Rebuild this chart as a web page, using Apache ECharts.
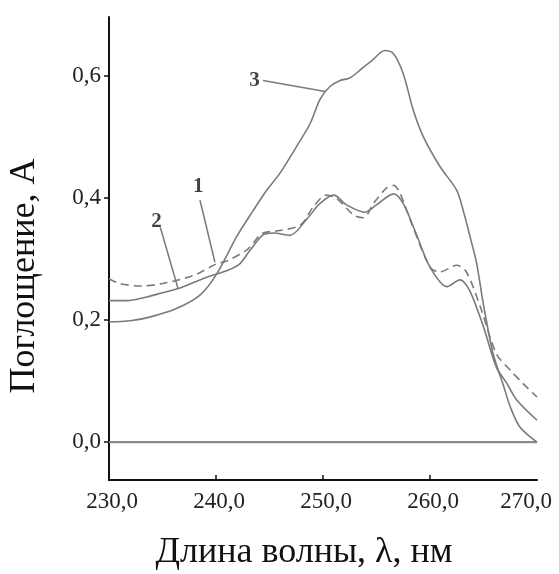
<!DOCTYPE html>
<html>
<head>
<meta charset="utf-8">
<script src="https://cdn.jsdelivr.net/npm/echarts@6/dist/echarts.min.js"></script>
<style>html,body{margin:0;padding:0;background:#fff}#c{width:559px;height:574px}</style>
</head>
<body>
<div id="c"></div>
<script>
// Wavelength (nm) / absorbance readings for each curve
var wl1 = [230, 231, 233, 235, 238, 240, 241, 243, 244.3, 246, 247.9, 249.1, 250.3, 251.3, 252.9, 253.8, 254.7, 255.9, 256.6, 257.2, 258.4, 260, 260.9, 262.5, 263.4, 264.7, 266.2, 267.5, 268.7, 270];
var abs1 = [0.268, 0.260, 0.256, 0.260, 0.274, 0.292, 0.297, 0.317, 0.342, 0.347, 0.356, 0.386, 0.405, 0.399, 0.372, 0.368, 0.391, 0.416, 0.421, 0.408, 0.353, 0.287, 0.279, 0.290, 0.279, 0.222, 0.145, 0.118, 0.096, 0.074];

var wl2 = [230, 231.7, 233.5, 235, 236.5, 238.5, 240.1, 241, 242.2, 243.2, 244.4, 245.4, 246.9, 248.5, 249.7, 251, 252.2, 253.9, 255, 256.6, 257.5, 258.7, 260, 261.6, 262.8, 263.7, 265, 266.2, 267.2, 268.1, 270];
var abs2 = [0.232, 0.232, 0.238, 0.245, 0.252, 0.266, 0.276, 0.281, 0.292, 0.315, 0.340, 0.343, 0.339, 0.366, 0.391, 0.405, 0.389, 0.377, 0.389, 0.407, 0.391, 0.342, 0.287, 0.255, 0.266, 0.249, 0.189, 0.123, 0.096, 0.069, 0.036];

var wl3 = [230, 232, 233.8, 236.3, 238.5, 240.07, 241.93, 243.49, 244.74, 245.98, 247.54, 248.79, 249.72, 250.65, 251.6, 252.5, 253.46, 254.6, 255.79, 256.57, 257.5, 258.44, 259.37, 260.93, 262.49, 263.1, 263.74, 264.36, 265, 265.9, 266.9, 267.5, 268.4, 270];
var abs3 = [0.197, 0.199, 0.205, 0.219, 0.241, 0.276, 0.337, 0.380, 0.413, 0.441, 0.485, 0.522, 0.562, 0.583, 0.593, 0.597, 0.610, 0.626, 0.642, 0.637, 0.604, 0.544, 0.501, 0.452, 0.413, 0.380, 0.337, 0.293, 0.225, 0.145, 0.091, 0.058, 0.025, 0.0];

var baseWl = [230, 270];
var baseAbs = [0, 0];

var xTicks = [230, 240, 250, 260, 270];
var yTicks = [0, 0.2, 0.4, 0.6];

// Curve labels: [name, label x, label y, pointer start x, start y, end x, end y]
var curveLabels = [
  ['1', 238.35, 0.4185, 238.5, 0.397, 239.9, 0.295],
  ['2', 234.45, 0.361, 234.8, 0.352, 236.45, 0.252],
  ['3', 243.6, 0.593, 244.4, 0.593, 250.2, 0.575]
];

function zip(a, b) { return a.map(function (v, i) { return [v, b[i]]; }); }
function comma(v, d) { return v.toFixed(d).replace('.', ','); }

var grey = '#7a7a7a';
var serif = '"Liberation Serif", "Times New Roman", serif';
var tickFont = {fontFamily: serif, fontSize: 23, color: '#222'};

var chart = echarts.init(document.getElementById('c'), null, {renderer: 'canvas'});
chart.setOption({
  animation: false,
  backgroundColor: '#fff',
  grid: {left: 109, right: 22, top: 17, bottom: 94, containLabel: false, outerBoundsMode: 'none'},
  xAxis: {
    type: 'value', min: 230, max: 270,
    axisLine: {onZero: false, lineStyle: {color: '#111', width: 2}},
    axisTick: {inside: true, length: 5, lineStyle: {color: '#111', width: 1.5}, customValues: [240, 250, 260]},
    axisLabel: {customValues: xTicks, margin: 10, color: '#222', fontFamily: serif, fontSize: 23,
      formatter: function (v, i) {
        return (v === 270 ? '{e|' : '{n|') + comma(v, 1) + '}';
      },
      rich: {
        n: Object.assign({padding: [0, 0, 0, 6]}, tickFont),
        e: Object.assign({padding: [0, 22, 0, 0]}, tickFont)
      }},
    splitLine: {show: false}
  },
  yAxis: {
    type: 'value', min: -0.062, max: 0.697,
    axisLine: {show: true, lineStyle: {color: '#111', width: 2}},
    axisTick: {show: true, length: 5, lineStyle: {color: '#111', width: 1.5}, customValues: yTicks},
    axisLabel: {customValues: yTicks, margin: 8, color: '#222', fontFamily: serif, fontSize: 23,
      formatter: function (v) { return comma(v, 1); }},
    splitLine: {show: false}
  },
  graphic: [
    {type: 'text', x: 25, y: 276, rotation: Math.PI / 2,
      style: {text: 'Поглощение, А', font: '36px ' + serif, fill: '#111', align: 'center', verticalAlign: 'middle'}},
    {type: 'text', x: 304, y: 553,
      style: {text: 'Длина волны, λ, нм', font: '36px ' + serif, fill: '#111', align: 'center', verticalAlign: 'middle'}}
  ],
  series: [
    {name: 'base', type: 'line', data: zip(baseWl, baseAbs), symbol: 'none',
      lineStyle: {color: '#8a8a8a', width: 2.2}},
    {name: '1', type: 'line', data: zip(wl1, abs1), symbol: 'none', smooth: 0.3,
      lineStyle: {color: grey, width: 1.6, type: [8, 5]}},
    {name: '2', type: 'line', data: zip(wl2, abs2), symbol: 'none', smooth: 0.3,
      lineStyle: {color: grey, width: 1.6}},
    {name: '3', type: 'line', data: zip(wl3, abs3), symbol: 'none', smooth: 0.3,
      lineStyle: {color: grey, width: 1.6}},
    {name: 'labels', type: 'scatter', symbolSize: 0, silent: true,
      data: curveLabels.map(function (c) { return {value: [c[1], c[2]], name: c[0]}; }),
      label: {show: true, position: 'inside', formatter: '{b}', color: '#111', fontFamily: serif, fontWeight: 'bold', fontSize: 21},
      markLine: {silent: true, symbol: 'none', label: {show: false},
        lineStyle: {color: grey, width: 1.5, type: 'solid'},
        data: curveLabels.map(function (c) { return [{coord: [c[3], c[4]]}, {coord: [c[5], c[6]]}]; })}
    }
  ]
});
</script>
</body>
</html>
